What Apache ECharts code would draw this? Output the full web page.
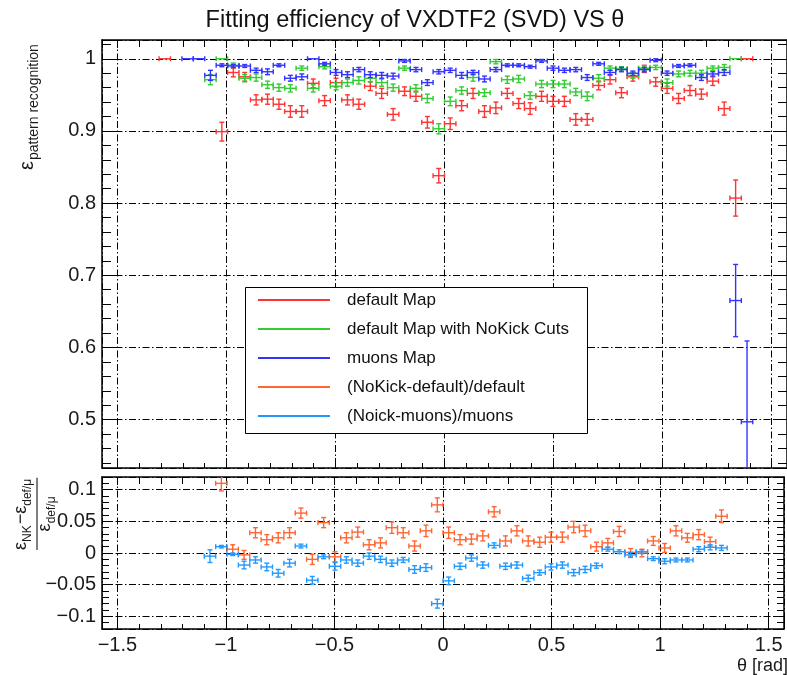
<!DOCTYPE html>
<html>
<head>
<meta charset="utf-8">
<script src="https://cdn.jsdelivr.net/npm/echarts@6/dist/echarts.min.js"></script>
<style>
  html, body { margin: 0; padding: 0; background: #fff; }
  #chart { width: 787px; height: 675px; }
</style>
</head>
<body>
<div id="chart"></div>
<script>
// θ bin centres (60 bins over [-π/2, π/2]); only bins 5..56 carry entries
const binCenters = [-1.2828, -1.2305, -1.1781, -1.1257, -1.0734, -1.0210, -0.9687, -0.9163, -0.8639, -0.8116,
  -0.7592, -0.7069, -0.6545, -0.6021, -0.5498, -0.4974, -0.4451, -0.3927, -0.3403, -0.2880,
  -0.2356, -0.1833, -0.1309, -0.0785, -0.0262, 0.0262, 0.0785, 0.1309, 0.1833, 0.2356,
  0.2880, 0.3403, 0.3927, 0.4451, 0.4974, 0.5498, 0.6021, 0.6545, 0.7069, 0.7592,
  0.8116, 0.8639, 0.9163, 0.9687, 1.0210, 1.0734, 1.1257, 1.1781, 1.2305, 1.2828,
  1.3352, 1.3875];
const binHalfWidth = 0.0262;

const thetaRange = [-1.5708, 1.5708];
const effRange = [0.433, 1.026];
const ratioRange = [-0.12, 0.12];

const seriesNames = ['default Map', 'default Map with NoKick Cuts', 'muons Map',
  '(NoKick-default)/default', '(Noick-muons)/muons'];

// efficiency, default map
const effDefault = [1, null, null, null, null, 0.899, 0.981, 0.975, 0.943, 0.944,
  0.937, 0.927, 0.927, 0.966, 0.942, 0.967, 0.943, 0.937, 0.962, 0.952,
  0.923, 0.955, 0.948, 0.912, 0.838, 0.910, 0.935, 0.952, 0.927, 0.932,
  0.952, 0.938, 0.931, 0.948, 0.941, 0.941, 0.916, 0.916, 0.963, 0.971,
  0.953, 0.975, 0.986, 0.968, 0.959, 0.945, 0.956, 0.951, 0.969, 0.931,
  0.807, 1];
const errDefault = [0, null, null, null, null, 0.013, 0.006, 0.006, 0.007, 0.007,
  0.007, 0.008, 0.008, 0.006, 0.007, 0.006, 0.007, 0.007, 0.006, 0.007,
  0.008, 0.006, 0.007, 0.008, 0.010, 0.008, 0.007, 0.007, 0.008, 0.008,
  0.007, 0.007, 0.008, 0.007, 0.007, 0.007, 0.008, 0.008, 0.006, 0.006,
  0.007, 0.006, 0.005, 0.006, 0.007, 0.007, 0.007, 0.007, 0.006, 0.009,
  0.025, 0];

// efficiency, default map with NoKick cuts
const effNoKick = [null, null, null, null, 0.971, 1, 0.991, 0.973, 0.974, 0.964,
  0.960, 0.959, 0.987, 0.959, 0.989, 0.962, 0.967, 0.970, 0.973, 0.967,
  0.960, 0.987, 0.959, 0.945, 0.903, 0.941, 0.956, 0.974, 0.953, 0.996,
  0.971, 0.972, 0.949, 0.965, 0.965, 0.965, 0.954, 0.948, 0.973, 0.987,
  0.986, 0.977, 0.987, 0.988, 0.967, 0.979, 0.980, 0.980, 0.987, 0.988,
  1, null];
const errNoKick = [null, null, null, null, 0.007, 0, 0.003, 0.005, 0.005, 0.005,
  0.005, 0.005, 0.003, 0.005, 0.003, 0.005, 0.005, 0.005, 0.005, 0.005,
  0.005, 0.003, 0.005, 0.006, 0.007, 0.006, 0.005, 0.005, 0.005, 0.003,
  0.005, 0.005, 0.005, 0.005, 0.005, 0.005, 0.005, 0.006, 0.005, 0.003,
  0.003, 0.004, 0.003, 0.003, 0.005, 0.004, 0.004, 0.004, 0.003, 0.004,
  0, null];

// efficiency, muons map
const effMuons = [null, null, 1, 1, 0.977, 0.991, 0.990, 0.990, 0.984, 0.982,
  0.991, 0.973, 0.975, 1, 0.993, 0.981, 0.978, 0.985, 0.978, 0.977,
  0.976, 0.997, 0.985, 0.967, 0.982, 0.984, 0.977, 0.981, 0.972, 0.985,
  0.991, 0.991, 0.989, 0.997, 0.987, 0.984, 0.985, 0.974, 0.993, 0.981,
  0.985, 0.980, 0.985, 0.998, 0.980, 0.990, 0.991, 0.974, 0.979, 0.981,
  0.665, 0.497];
const errMuons = [null, null, 0, 0, 0.007, 0.002, 0.002, 0.002, 0.003, 0.004,
  0.002, 0.004, 0.004, 0, 0.002, 0.004, 0.004, 0.003, 0.004, 0.004,
  0.004, 0.002, 0.003, 0.004, 0.003, 0.003, 0.004, 0.003, 0.004, 0.003,
  0.002, 0.002, 0.002, 0.002, 0.003, 0.003, 0.003, 0.004, 0.002, 0.003,
  0.003, 0.003, 0.003, 0.002, 0.003, 0.002, 0.002, 0.004, 0.003, 0.004,
  0.050, 0.112];

// relative differences
const diffDefault = [null, null, null, null, null, 0.110, 0.006, -0.003, 0.032, 0.021,
  0.024, 0.032, 0.063, -0.010, 0.048, -0.006, 0.024, 0.033, 0.013, 0.016,
  0.040, 0.032, 0.011, 0.035, 0.076, 0.032, 0.021, 0.022, 0.027, 0.065,
  0.019, 0.035, 0.019, 0.017, 0.025, 0.025, 0.041, 0.035, 0.010, 0.016,
  0.034, 0.001, 0.000, 0.019, 0.008, 0.035, 0.024, 0.029, 0.018, 0.058,
  null, null];
const errDiffDefault = [null, null, null, null, null, 0.012, 0.007, 0.007, 0.008, 0.008,
  0.008, 0.008, 0.008, 0.008, 0.008, 0.008, 0.008, 0.008, 0.008, 0.008,
  0.009, 0.008, 0.008, 0.009, 0.011, 0.009, 0.008, 0.008, 0.008, 0.008,
  0.008, 0.008, 0.008, 0.008, 0.008, 0.008, 0.009, 0.009, 0.007, 0.007,
  0.008, 0.006, 0.006, 0.007, 0.007, 0.008, 0.007, 0.008, 0.007, 0.010,
  null, null];

const diffMuons = [null, null, null, null, -0.005, 0.010, -0.002, -0.019, -0.011, -0.022,
  -0.032, -0.016, 0.011, -0.043, -0.006, -0.021, -0.011, -0.016, -0.005, -0.010,
  -0.016, -0.011, -0.026, -0.023, -0.080, -0.044, -0.021, -0.008, -0.019, 0.012,
  -0.021, -0.019, -0.040, -0.031, -0.022, -0.019, -0.031, -0.026, -0.020, 0.006,
  0.002, -0.003, 0.002, -0.009, -0.013, -0.011, -0.011, 0.006, 0.009, 0.008,
  null, null];
const errDiffMuons = [null, null, null, null, 0.010, 0.002, 0.002, 0.006, 0.005, 0.006,
  0.006, 0.006, 0.003, 0.006, 0.003, 0.006, 0.005, 0.005, 0.005, 0.005,
  0.005, 0.004, 0.006, 0.006, 0.007, 0.006, 0.005, 0.005, 0.005, 0.004,
  0.005, 0.005, 0.005, 0.004, 0.005, 0.005, 0.005, 0.005, 0.004, 0.003,
  0.003, 0.004, 0.003, 0.003, 0.004, 0.003, 0.003, 0.004, 0.004, 0.004,
  null, null];

const FONT = '"Liberation Sans", Arial, Helvetica, sans-serif';
const COLORS = ['#ff3333', '#33cc33', '#3333ff', '#ff6633', '#2299ff'];

function points(values, errors) {
  const out = [];
  values.forEach((v, i) => {
    if (v !== null) out.push([binCenters[i], v, binHalfWidth, errors[i] || 0]);
  });
  return out;
}

// cross-shaped error bars with end caps
function renderErrorBar(params, api) {
  const x = api.value(0), y = api.value(1), ex = api.value(2), ey = api.value(3);
  const color = api.visual('color');
  const style = { stroke: color, lineWidth: 1.4, fill: null };
  const cap = 2.5;
  const l = api.coord([x - ex, y]);
  const r = api.coord([x + ex, y]);
  const children = [
    { type: 'line', shape: { x1: l[0], y1: l[1], x2: r[0], y2: r[1] }, style },
    { type: 'line', shape: { x1: l[0], y1: l[1] - cap, x2: l[0], y2: l[1] + cap }, style },
    { type: 'line', shape: { x1: r[0], y1: r[1] - cap, x2: r[0], y2: r[1] + cap }, style }
  ];
  if (ey > 0) {
    const t = api.coord([x, y + ey]);
    const b = api.coord([x, y - ey]);
    children.push(
      { type: 'line', shape: { x1: t[0], y1: t[1], x2: b[0], y2: b[1] }, style },
      { type: 'line', shape: { x1: t[0] - cap, y1: t[1], x2: t[0] + cap, y2: t[1] }, style },
      { type: 'line', shape: { x1: b[0] - cap, y1: b[1], x2: b[0] + cap, y2: b[1] }, style }
    );
  }
  return { type: 'group', children };
}

const GRID_DASH = [7, 2.5, 1.5, 2.5];

function isMultiple(v, step) {
  const q = v / step;
  return Math.abs(q - Math.round(q)) < 1e-6;
}
function rootNumber(v) {
  if (Math.abs(v) < 1e-9) return '0';
  const s = String(parseFloat(Math.abs(v).toFixed(3)));
  return v < 0 ? '\u2212' + s : s;
}

function xAxisDef(gridIndex, position, major, labels, split, tickLen) {
  return {
    type: 'value', gridIndex, position,
    min: thetaRange[0], max: thetaRange[1],
    splitNumber: major ? 6 : 31,
    minInterval: major ? 0.5 : 0.1, maxInterval: major ? 0.5 : 0.1,
    axisLine: { show: major, onZero: false, lineStyle: { color: '#000', width: 1.5 } },
    axisTick: { show: true, inside: true, length: tickLen, lineStyle: { color: '#000', width: 1 } },
    axisLabel: {
      show: labels, margin: 6, fontFamily: FONT, fontSize: 20, color: '#1a1a1a',
      formatter: v => isMultiple(v, 0.5) ? rootNumber(v) : ''
    },
    splitLine: { show: split, lineStyle: { color: '#000', width: 1, type: GRID_DASH } }
  };
}

function yAxisDef(gridIndex, position, range, split, step, minorStep, major, labels, tickLen) {
  const span = range[1] - range[0];
  const s = major ? step : minorStep;
  return {
    type: 'value', gridIndex, position,
    min: range[0], max: range[1],
    splitNumber: Math.round(span / s),
    minInterval: s, maxInterval: s,
    axisLine: { show: major, onZero: false, lineStyle: { color: '#000', width: 1.5 } },
    axisTick: { show: true, inside: true, length: tickLen, lineStyle: { color: '#000', width: 1 } },
    axisLabel: {
      show: labels, margin: 6, fontFamily: FONT, fontSize: 20, color: '#1a1a1a',
      formatter: v => isMultiple(v, step) ? rootNumber(v) : ''
    },
    splitLine: { show: split, lineStyle: { color: '#000', width: 1, type: GRID_DASH } }
  };
}

const xAxes = [
  xAxisDef(0, 'bottom', true, false, true, 10),   // 0
  xAxisDef(0, 'top', true, false, false, 8),      // 1
  xAxisDef(1, 'bottom', true, true, true, 10),    // 2
  xAxisDef(1, 'top', true, false, false, 8),      // 3
  xAxisDef(0, 'bottom', false, false, false, 5),  // minor ticks
  xAxisDef(0, 'top', false, false, false, 7),
  xAxisDef(1, 'bottom', false, false, false, 5),
  xAxisDef(1, 'top', false, false, false, 7)
];
const yAxes = [
  yAxisDef(0, 'left', effRange, true, 0.1, 0.02, true, true, 14),        // 0
  yAxisDef(0, 'right', effRange, false, 0.1, 0.02, true, false, 14),     // 1
  yAxisDef(1, 'left', ratioRange, true, 0.05, 0.01, true, true, 10),     // 2
  yAxisDef(1, 'right', ratioRange, false, 0.05, 0.01, true, false, 10),  // 3
  yAxisDef(0, 'left', effRange, false, 0.1, 0.02, false, false, 9),
  yAxisDef(0, 'right', effRange, false, 0.1, 0.02, false, false, 9),
  yAxisDef(1, 'left', ratioRange, false, 0.05, 0.01, false, false, 7),
  yAxisDef(1, 'right', ratioRange, false, 0.05, 0.01, false, false, 7)
];

function errSeries(name, color, data, xi, yi) {
  return {
    type: 'custom', name, xAxisIndex: xi, yAxisIndex: yi,
    renderItem: renderErrorBar, clip: true,
    itemStyle: { color }, encode: { x: 0, y: 1 },
    data, z: 3
  };
}

const series = [
  errSeries(seriesNames[0], COLORS[0], points(effDefault, errDefault), 0, 0),
  errSeries(seriesNames[1], COLORS[1], points(effNoKick, errNoKick), 0, 0),
  errSeries(seriesNames[2], COLORS[2], points(effMuons, errMuons), 0, 0),
  errSeries(seriesNames[3], COLORS[3], points(diffDefault, errDiffDefault), 2, 2),
  errSeries(seriesNames[4], COLORS[4], points(diffMuons, errDiffMuons), 2, 2)
];

// text measuring for the composed axis titles
const measureCtx = document.createElement('canvas').getContext('2d');
function textW(str, size) {
  measureCtx.font = size + 'px ' + FONT;
  return measureCtx.measureText(str).width;
}
function txt(text, x, y, size, extra) {
  return Object.assign({
    type: 'text', x, y,
    style: {
      text, font: size + 'px ' + FONT, fill: '#1a1a1a',
      align: 'left', verticalAlign: 'middle',
      textAlign: 'left', textVerticalAlign: 'middle'
    }
  }, extra || {});
}

// ε_pattern recognition (rotated)
const eW = textW('\u03b5', 20);
const yTitleTop = {
  type: 'group', x: 27, y: 170, rotation: Math.PI / 2,
  children: [
    txt('\u03b5', 0, 0, 20),
    txt('pattern recognition', eW + 1, 7, 14)
  ]
};

// (ε_NK − ε_def/μ) / ε_def/μ (rotated fraction)
const numParts = [
  ['\u03b5', 18, -16], ['NK', 12, -9], ['\u2212\u03b5', 18, -16], ['def/\u03bc', 12, -9]
];
const numChildren = [];
let cx = 0;
numParts.forEach(p => {
  numChildren.push(txt(p[0], cx, p[2], p[1]));
  cx += textW(p[0], p[1]) + (p[1] === 12 ? 1 : 0);
});
const barLen = Math.max(cx, 72);
const denW = textW('\u03b5', 18) + textW('def/\u03bc', 12);
const den0 = (barLen - denW) / 2;
const yTitleBottom = {
  type: 'group', x: 37, y: 550, rotation: Math.PI / 2,
  children: numChildren.concat([
    { type: 'line', shape: { x1: 0, y1: 0, x2: barLen, y2: 0 }, style: { stroke: '#555', lineWidth: 1.5 } },
    txt('\u03b5', den0, 8, 18),
    txt('def/\u03bc', den0 + textW('\u03b5', 18), 15, 12)
  ])
};

const option = {
  backgroundColor: '#ffffff',
  animation: false,
  title: {
    text: 'Fitting efficiency of VXDTF2 (SVD) VS \u03b8',
    left: 410, top: 4, textAlign: 'center',
    textStyle: { fontFamily: FONT, fontSize: 23.5, fontWeight: 'normal', color: '#111' }
  },
  grid: [
    { left: 102, top: 40, width: 686, height: 428 },
    { left: 102, top: 477, width: 686, height: 152 }
  ],
  xAxis: xAxes,
  yAxis: yAxes,
  legend: {
    data: seriesNames, orient: 'vertical', left: 253, top: 285,
    icon: 'rect', itemWidth: 72, itemHeight: 2, itemGap: 9,
    textStyle: { fontFamily: FONT, fontSize: 17, color: '#111', lineHeight: 20, padding: [0, 0, 0, 12] },
    selectedMode: false, z: 20
  },
  graphic: {
    elements: [
      { type: 'rect', z: 10, shape: { x: 245.5, y: 287.5, width: 342, height: 146 },
        style: { fill: '#fff', stroke: '#000', lineWidth: 1 } },
      yTitleTop,
      yTitleBottom,
      txt('\u03b8 [rad]', 737, 666, 18)
    ]
  },
  series
};

const chart = echarts.init(document.getElementById('chart'), null, { renderer: 'canvas' });
chart.setOption(option);
</script>
</body>
</html>
